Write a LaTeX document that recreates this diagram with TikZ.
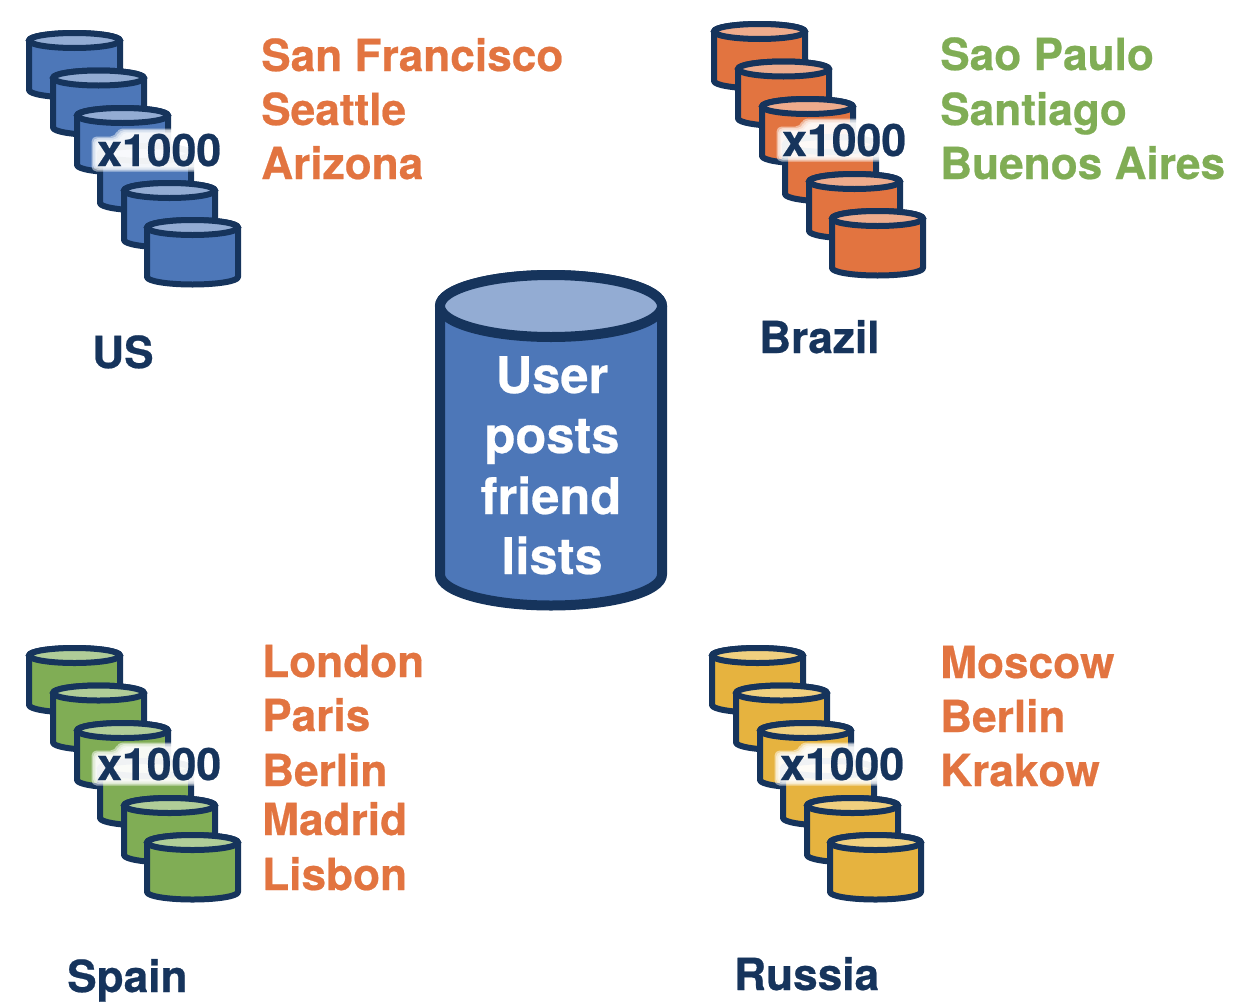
\documentclass[tikz,border=0pt]{standalone}
\usepackage{fontspec}
\setmainfont{TeX Gyre Heros}[Kerning=Off,BoldFeatures={FakeBold=0.5}]
\definecolor{navy}{HTML}{16345C}
\definecolor{blueF}{HTML}{4D77B8}
\definecolor{blueL}{HTML}{93ACD3}
\definecolor{orangeF}{HTML}{E27440}
\definecolor{orangeL}{HTML}{EEAB8C}
\definecolor{greenF}{HTML}{80AD55}
\definecolor{greenL}{HTML}{B0CD98}
\definecolor{yellowF}{HTML}{E6B33F}
\definecolor{yellowL}{HTML}{F0D07F}
\tikzset{
  city/.style={anchor=base west,inner sep=0pt,font=\fontsize{44.2}{44.2}\bfseries\selectfont},
  region/.style={city,text=navy},
  times/.style={anchor=base west,inner sep=0pt,text=navy,font=\fontsize{44.6}{44.6}\bfseries\selectfont},
  core/.style={anchor=base,inner sep=0pt,text=white,font=\fontsize{50.6}{50.6}\bfseries\selectfont},
}
% one small cylinder: outer top-left x, y, body colour, top colour
\newcommand\smalldb[4]{%
  \fill[#3,draw=navy,line width=6pt,line join=round]
    (#1+3,#2+10.5) -- (#1+3,#2+60) arc[start angle=180,end angle=0,x radius=45.5,y radius=7.5]
    -- (#1+94,#2+10.5) arc[start angle=0,end angle=-180,x radius=45.5,y radius=7.5] -- cycle;
  \fill[#4,draw=navy,line width=6pt] (#1+48.5,#2+10.5) ellipse[x radius=45.5,y radius=7.5];
}
% six cylinders in a staircase
\newcommand\stackdb[4]{%
  \smalldb{#1}{#2}{#3}{#4}
  \smalldb{#1+24}{#2+37.5}{#3}{#4}
  \smalldb{#1+48}{#2+75}{#3}{#4}
  \smalldb{#1+71}{#2+113}{#3}{#4}
  \smalldb{#1+95}{#2+150}{#3}{#4}
  \smalldb{#1+118}{#2+187}{#3}{#4}
}
% soft white halo behind the x1000 label (left x, baseline y)
\newcommand\halo[2]{%
  \foreach \g in {5.5,4,2.5,1}{
    \fill[white,opacity=.5,rounded corners=5pt]
      (#1-\g,#2+\g) -- (#1+123+\g,#2+\g) -- (#1+123+\g,#2-32-\g)
      -- (#1+26-\g,#2-32-\g) -- (#1+24-\g,#2-24-\g) -- (#1-\g,#2-24-\g) -- cycle;
  }
}
\begin{document}
\begin{tikzpicture}[x=1pt,y=-1pt]
\useasboundingbox (0,0) rectangle (1238,1004);

% centre cylinder
\fill[blueF,draw=navy,line width=10pt,line join=round]
  (440,306) -- (440,574.5) arc[start angle=180,end angle=0,x radius=111,y radius=31]
  -- (662,306) arc[start angle=0,end angle=-180,x radius=111,y radius=31] -- cycle;
\fill[blueL,draw=navy,line width=10pt] (551,306) ellipse[x radius=111,y radius=31];
\node[core] (u1) at (552,393) {User};
\node[core] (u2) at (552,453) {posts};
\node[core] (u3) at (551,514) {friend};
\node[core] (u4) at (552,574) {lists};

% US
\stackdb{26}{30}{blueF}{blueL}
\halo{97}{166}
\node[times] (tus) at (97,166) {x1000};
\node[city,text=orangeF] (us1) at (261,71) {San Francisco};
\node[city,text=orangeF] (us2) at (261,125) {Seattle};
\node[city,text=orangeF] (us3) at (261,179) {Arizona};
\node[region] (us) at (92,368) {US};

% Brazil
\stackdb{711}{21}{orangeF}{orangeL}
\halo{782}{156}
\node[times] (tbr) at (782,156) {x1000};
\node[city,text=greenF] (br1) at (940,70) {Sao Paulo};
\node[city,text=greenF] (br2) at (940,125) {Santiago};
\node[city,text=greenF] (br3) at (940,179) {Buenos Aires};
\node[region] (br) at (759,353) {Brazil};

% Spain
\stackdb{26}{645}{greenF}{greenL}
\halo{97}{780}
\node[times] (tes) at (97,780) {x1000};
\node[city,text=orangeF] (es1) at (262,677) {London};
\node[city,text=orangeF] (es2) at (262,731) {Paris};
\node[city,text=orangeF] (es3) at (262,786) {Berlin};
\node[city,text=orangeF] (es4) at (262,835) {Madrid};
\node[city,text=orangeF] (es5) at (262,890) {Lisbon};
\node[region] (es) at (67,992) {Spain};

% Russia
\stackdb{709}{645}{yellowF}{yellowL}
\halo{780}{780}
\node[times] (tru) at (780,780) {x1000};
\node[city,text=orangeF] (ru1) at (940,678) {Moscow};
\node[city,text=orangeF] (ru2) at (940,732) {Berlin};
\node[city,text=orangeF] (ru3) at (940,786) {Krakow};
\node[region] (ru) at (734,990) {Russia};
\end{tikzpicture}
\end{document}
